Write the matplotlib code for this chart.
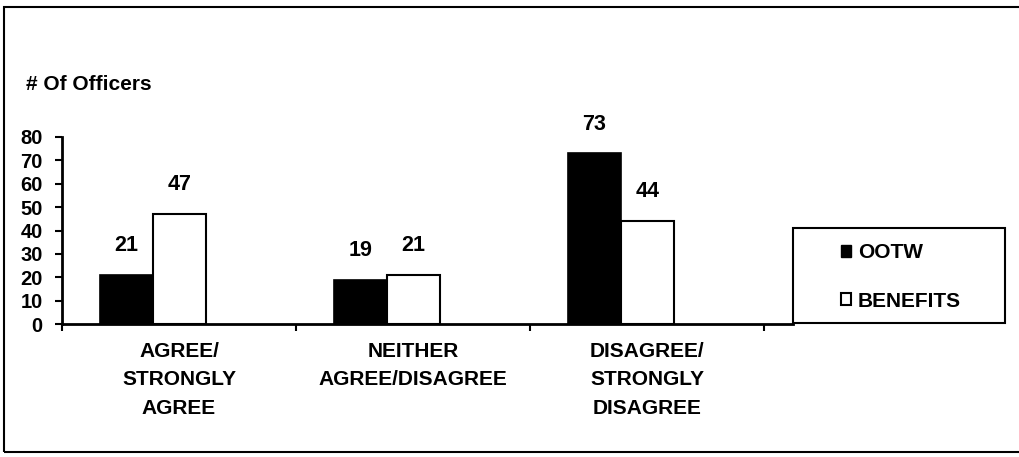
import matplotlib
matplotlib.use("Agg")
import matplotlib.pyplot as plt
from matplotlib.patches import Patch, Rectangle

plt.rcParams['font.family'] = ['Liberation Sans', 'DejaVu Sans']
plt.rcParams['font.weight'] = 'bold'

categories = ["AGREE/\nSTRONGLY\nAGREE", "NEITHER\nAGREE/DISAGREE", "DISAGREE/\nSTRONGLY\nDISAGREE"]
ootw = [21, 19, 73]
benefits = [47, 21, 44]
series_names = ["OOTW", "BENEFITS"]
yticks = [0, 10, 20, 30, 40, 50, 60, 70, 80]

W, H = 1020, 457
fig = plt.figure(figsize=(W / 100, H / 100), dpi=100)
ax = fig.add_axes([62 / W, (H - 324) / H, (793 - 62) / W, (324 - 137) / H])

gap = 0.162
bw = 0.227
x0 = [i + gap for i in range(len(categories))]
x1 = [i + gap + bw for i in range(len(categories))]
ax.bar(x0, ootw, width=bw, align='edge', color='black', edgecolor='black', linewidth=1.2)
ax.bar(x1, benefits, width=bw, align='edge', color='white', edgecolor='black', linewidth=1.5)

for xs, vals in ((x0, ootw), (x1, benefits)):
    for x, v in zip(xs, vals):
        ax.annotate(str(v), (x + bw / 2, v), xytext=(0, 21), textcoords='offset points',
                    ha='center', va='center', fontsize=15.5, fontweight='bold')

ax.set_xlim(0, (793 - 62) / 234)
ax.set_ylim(0, 80)
ax.set_yticks(yticks)
ax.set_yticklabels([str(t) for t in yticks], fontsize=14.5, fontweight='bold')
ax.tick_params(axis='y', direction='out', length=5, width=1.5, pad=9)

ax.set_xticks([0, 1, 2, 3])
ax.set_xticklabels([])
ax.tick_params(axis='x', which='major', direction='out', length=5, width=1.5)
ax.set_xticks([0.5, 1.5, 2.5], minor=True)
ax.set_xticklabels(categories, minor=True, fontsize=15, fontweight='bold', linespacing=1.62)
ax.tick_params(axis='x', which='minor', length=0, pad=13)

for s in ('top', 'right'):
    ax.spines[s].set_visible(False)
for s in ('left', 'bottom'):
    ax.spines[s].set_linewidth(2)

fig.text(26 / W, 1 - 85 / H, "# Of Officers", ha='left', va='center', fontsize=15, fontweight='bold')

# legend box
fig.patches.append(Rectangle((793 / W, (H - 323) / H), (1005 - 793) / W, 95 / H,
                             transform=fig.transFigure, facecolor='white', edgecolor='black',
                             linewidth=1.5, zorder=5))
handles = [Patch(facecolor='black', edgecolor='black'), Patch(facecolor='white', edgecolor='black', linewidth=1.5)]
leg = fig.legend(handles, series_names, loc='center left', bbox_to_anchor=(841 / W, 1 - 277 / H),
                 frameon=False, fontsize=15, handlelength=0.5, handleheight=0.55,
                 handletextpad=0.3, labelspacing=1.4, borderpad=0, borderaxespad=0)
leg.set_zorder(6)
for t in leg.get_texts():
    t.set_fontweight('bold')

# outer frame
fig.patches.append(Rectangle((4 / W, (H - 452) / H), 1.0, (452 - 7) / H,
                             transform=fig.transFigure, facecolor='none', edgecolor='black',
                             linewidth=1.5, clip_on=False))

fig.savefig("out.png", dpi=100)
